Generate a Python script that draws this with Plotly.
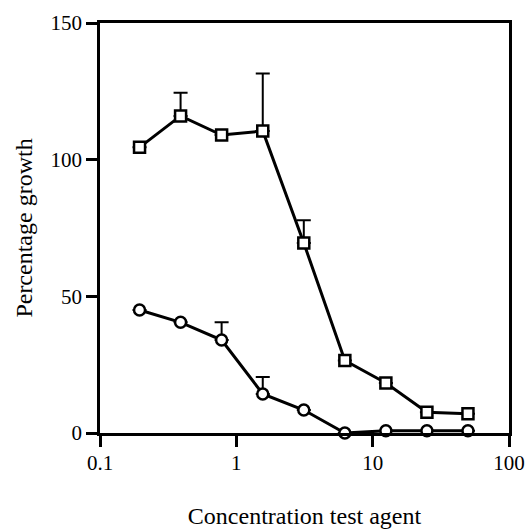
import plotly.graph_objects as go

conc = [0.195, 0.39, 0.78, 1.5625, 3.125, 6.25, 12.5, 25, 50]
squares = [104.5, 116, 109, 110.5, 69.5, 26.5, 18.3, 7.6, 7.0]
squares_err = [0, 8.5, 0, 21, 8.3, 0, 0, 0, 0]
circles = [45, 40.5, 34, 14.3, 8.4, 0, 0.8, 0.8, 0.8]
circles_err = [0, 0, 6.5, 6.2, 0, 0, 0, 0, 0]

x_ticks = [0.1, 1, 10, 100]
x_ticktext = ["0.1", "1", "10", "100"]
y_ticks = [0, 50, 100, 150]

FONT = "Liberation Serif"

fig = go.Figure()
for vals, errs, sym in [(squares, squares_err, "square"), (circles, circles_err, "circle")]:
    fig.add_trace(go.Scatter(
        x=conc, y=vals, mode="lines+markers",
        line=dict(color="black", width=3),
        marker=dict(symbol=sym, size=11, color="white", line=dict(color="black", width=2.5)),
        error_y=dict(type="data", symmetric=False, array=errs, arrayminus=[0] * len(errs),
                     color="black", thickness=2, width=7),
        cliponaxis=False, showlegend=False,
    ))

fig.update_layout(
    width=528, height=529,
    margin=dict(l=100, r=19, t=23, b=96),
    paper_bgcolor="white", plot_bgcolor="white",
    font=dict(family=FONT, color="black", size=21),
    xaxis=dict(
        type="log", range=[-1, 2], tickvals=x_ticks, ticktext=x_ticktext,
        showgrid=False, zeroline=False, showline=True, linecolor="black", linewidth=2.5,
        mirror=True, ticks="outside", ticklen=11, tickwidth=2.5, tickcolor="black",
        tickfont=dict(family=FONT, size=21), automargin=False, ticklabelstandoff=-2,
        title=dict(text="Concentration test agent", font=dict(family=FONT, size=24), standoff=36),
    ),
    yaxis=dict(
        range=[0, 150], tickvals=y_ticks,
        showgrid=False, zeroline=False, showline=True, linecolor="black", linewidth=2.5,
        mirror=True, ticks="outside", ticklen=11, tickwidth=2.5, tickcolor="black",
        tickfont=dict(family=FONT, size=21), automargin=False,
        title=dict(text="Percentage growth", font=dict(family=FONT, size=24), standoff=12),
    ),
)

# remove the page's default 8px body margin so the figure sits at the window's corner
fig.write_html("out.html", config={"displayModeBar": False},
               post_script="document.body.style.margin='0';")
